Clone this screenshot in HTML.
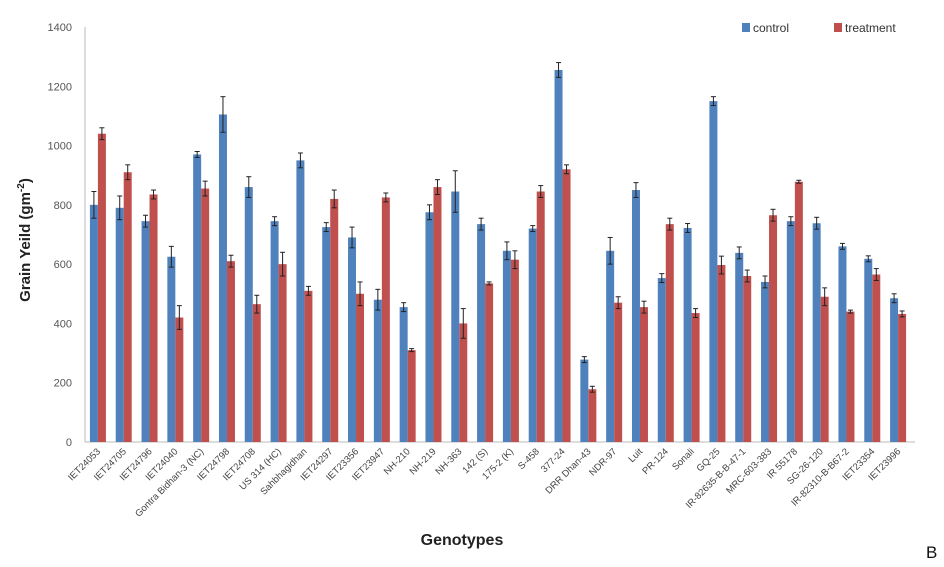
<!DOCTYPE html>
<html><head><meta charset="utf-8">
<style>
body{margin:0;background:#fff;width:944px;height:562px;overflow:hidden;font-family:"Liberation Sans",sans-serif}
svg text{font-family:"Liberation Sans",sans-serif}
</style></head>
<body>
<svg id="chart" width="944" height="562" xmlns="http://www.w3.org/2000/svg">
<g id="axes"></g>
<g id="bars"></g>
<g id="xlabels"></g>
<text transform="translate(30,240) rotate(-90)" text-anchor="middle" font-size="15" font-weight="bold" fill="#222">Grain Yeild (gm<tspan font-size="10" dy="-6">-2</tspan><tspan dy="6">)</tspan></text>
<text x="462" y="545" text-anchor="middle" font-size="16" font-weight="bold" fill="#222">Genotypes</text>
<text x="926" y="558" font-size="17" fill="#111">B</text>
<g>
<rect x="742" y="23" width="8" height="9" fill="#4f81bd"/>
<text x="753" y="32" font-size="12" fill="#333">control</text>
<rect x="834" y="23" width="8" height="9" fill="#c0504d"/>
<text x="845" y="32" font-size="12" fill="#333">treatment</text>
</g>
</svg>
<script>
const categories=["IET24053","IET24705","IET24796","IET24040","Gontra Bidhan-3 (NC)","IET24798","IET24708","US 314 (HC)","Sahbhagidhan","IET24297","IET23356","IET23947","NH-210","NH-219","NH-363","142 (S)","175-2 (K)","S-458","377-24","DRR Dhan-43","NDR-97","Luit","PR-124","Sonali","GQ-25","IR-82635-B-B-47-1","MRC-603-383","IR 55178","SG-26-120","IR-82310-B-B67-2","IET23354","IET23996"];
const control=[800,790,745,625,970,1105,860,745,950,725,690,480,455,775,845,735,645,720,1255,278,645,850,553,722,1150,638,540,745,738,660,618,485];
const treatment=[1040,910,835,420,855,610,465,600,510,820,500,825,310,860,400,535,615,845,920,178,470,455,735,435,597,560,765,878,490,440,565,432];
const controlErr=[45,40,20,35,10,60,35,15,25,15,35,35,15,25,70,20,30,10,25,10,45,25,15,15,15,20,20,15,20,10,10,15];
const treatmentErr=[20,25,15,40,25,20,30,40,15,30,40,15,5,25,50,5,30,20,15,10,20,20,20,15,30,20,20,5,30,5,20,10];
const yTicks=[0,200,400,600,800,1000,1200,1400];
const NS="http://www.w3.org/2000/svg";
const x0=85,x1=911,yb=442,yt=27,ymax=1400;
const y=v=>yb-(v/ymax)*(yb-yt);
const gw=(x1-x0)/categories.length;
const gx=i=>x0+gw*i+gw/2;
function mk(tag,attrs,parent){const e=document.createElementNS(NS,tag);for(const k in attrs)e.setAttribute(k,attrs[k]);parent.appendChild(e);return e;}
const axes=document.getElementById('axes'),bars=document.getElementById('bars'),xl=document.getElementById('xlabels');
let a=mk('line',{x1:x0,y1:yt,x2:x0,y2:yb,stroke:'#bbb'},axes);


a=mk('line',{x1:x0,y1:yb,x2:x1+4,y2:yb,stroke:'#bbb'},axes);


yTicks.forEach(t=>{const e=mk('text',{x:x0-13,y:y(t)+4,'text-anchor':'end','font-size':'11',fill:'#555'},axes);e.textContent=t;

});
const bw=8;
function bar(i,v,err,off,color,name){
 const bx=gx(i)+off;
 const r=mk('rect',{x:bx,y:y(v),width:bw,height:yb-y(v),fill:color},bars);
 
 
 const cx=bx+bw/2;
 const g=mk('g',{stroke:'#222','stroke-width':'1'},bars);
 
 
 mk('line',{x1:cx,y1:y(v+err),x2:cx,y2:y(v-err)},g);
 mk('line',{x1:cx-2.5,y1:y(v+err),x2:cx+2.5,y2:y(v+err)},g);
 mk('line',{x1:cx-2.5,y1:y(v-err),x2:cx+2.5,y2:y(v-err)},g);
}
categories.forEach((c,i)=>{
 bar(i,control[i],controlErr[i],-bw,'#4f81bd','control');
 bar(i,treatment[i],treatmentErr[i],0,'#c0504d','treatment');
 const t=mk('text',{transform:`translate(${gx(i)+3},${yb+10}) rotate(-45)`,'text-anchor':'end','font-size':'9.5',fill:'#444'},xl);
 t.textContent=c;
 
 
});
</script>
</body></html>
